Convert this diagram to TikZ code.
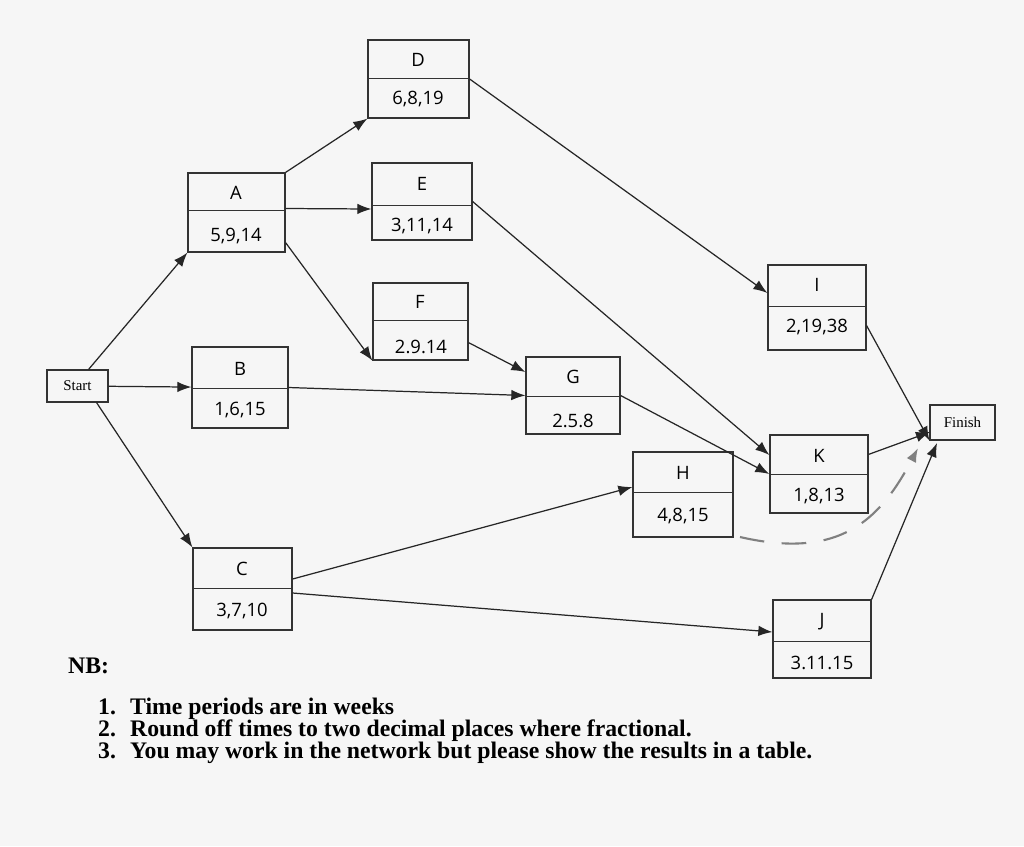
\documentclass[tikz,border=0pt]{standalone}
\usepackage{fontspec}
\setmainfont{Liberation Serif}
\newfontfamily\boxfont{Open Sans}
\usetikzlibrary{arrows.meta}
\tikzset{
 box/.style={draw=black!80,line width=0.7pt},
 lab/.style={font=\boxfont\fontsize{10.5}{12}\selectfont},
 se/.style={draw=black!80,line width=0.6pt,font=\fontsize{8.5}{10}\selectfont,inner sep=0pt},
 arr/.style={-{Latex[length=8pt,width=6pt]},line width=0.7pt,black!85},
 nb/.style={font=\bfseries\fontsize{13.5}{15}\selectfont,anchor=west}
}
\begin{document}
\begin{tikzpicture}[x=0.02cm,y=-0.02cm]
\fill[white!93!gray] (0,0) rectangle (1024,846);
\useasboundingbox (0,0) rectangle (1024,846);
% boxes
\node[box,minimum width=101*0.02cm,minimum height=78*0.02cm] (D) at (418.5,79) {};
\draw[black!80] (368,78) -- (469,78);
\node[lab] at (418,60) {D}; \node[lab] at (418,99) {6,8,19};
\node[box,minimum width=100*0.02cm,minimum height=77*0.02cm] (E) at (422,201.5) {};
\draw[black!80] (372,205) -- (472,205);
\node[lab] at (422,184) {E}; \node[lab] at (422,226) {3,11,14};
\node[box,minimum width=97*0.02cm,minimum height=79*0.02cm] (A) at (236.5,212.5) {};
\draw[black!80] (188,210) -- (285,210);
\node[lab] at (236,193) {A}; \node[lab] at (236,236) {5,9,14};
\node[box,minimum width=95*0.02cm,minimum height=77*0.02cm] (F) at (420.5,321.5) {};
\draw[black!80] (373,320) -- (468,320);
\node[lab] at (420,302) {F}; \node[lab] at (421,347) {2.9.14};
\node[box,minimum width=98*0.02cm,minimum height=85*0.02cm] (I) at (817,307.5) {};
\draw[black!80] (768,306) -- (866,306);
\node[lab] at (817,285) {I}; \node[lab] at (817,327) {2,19,38};
\node[box,minimum width=96*0.02cm,minimum height=81*0.02cm] (B) at (240,387.5) {};
\draw[black!80] (192,388) -- (288,388);
\node[lab] at (240,369) {B}; \node[lab] at (240,410) {1,6,15};
\node[box,minimum width=94*0.02cm,minimum height=77*0.02cm] (G) at (573,395.5) {};
\draw[black!80] (526,396) -- (620,396);
\node[lab] at (573,377) {G}; \node[lab] at (573,421) {2.5.8};
\node[se,minimum width=61*0.02cm,minimum height=32*0.02cm] (Start) at (77.5,386) {Start};
\node[box,minimum width=98*0.02cm,minimum height=78*0.02cm] (K) at (819,474) {};
\draw[black!80] (770,474) -- (868,474);
\node[lab] at (819,456) {K}; \node[lab] at (819,496) {1,8,13};
\node[box,minimum width=100*0.02cm,minimum height=85*0.02cm] (H) at (683,494.5) {};
\draw[black!80] (633,492) -- (733,492);
\node[lab] at (683,473) {H}; \node[lab] at (683,516) {4,8,15};
\node[se,minimum width=65*0.02cm,minimum height=35*0.02cm] (Finish) at (962.5,422.5) {Finish};
\node[box,minimum width=99*0.02cm,minimum height=82*0.02cm] (C) at (242.5,589) {};
\draw[black!80] (193,588) -- (292,588);
\node[lab] at (242,569) {C}; \node[lab] at (242,611) {3,7,10};
\node[box,minimum width=98*0.02cm,minimum height=78*0.02cm] (J) at (822,639) {};
\draw[black!80] (773,641) -- (871,641);
\node[lab] at (822,622) {J}; \node[lab] at (822,663) {3.11.15};
\coordinate (fJ) at (937,443);
\coordinate (fK) at (930,432);
% edges
\draw[arr] (Start.north east) ++(-20,0) -- (A.south west);
\draw[arr] (Start) -- (B);
\draw[arr] (Start.south east) ++(-12,0) -- (C.north west);
\draw[arr] (A.north east) -- (D.south west);
\draw[arr] (A.east) ++(0,-4) -- (E.west |- 208,209);
\draw[arr] (A.south east) ++(0,-10) -- (F.south west);
\draw[arr] (D.east) -- (I.north west |- 768,293);
\draw[arr] (E.east) -- (K.north west |- 770,455);
\draw[arr] (F.south east) ++(0,-18) -- (G.north west |- 526,372);
\draw[arr] (B.east) -- (G.west);
\draw[arr] (G.east) -- (K.west);
\draw[arr] (C.east) ++(0,-10) -- (H.west |- 633,487);
\draw[arr] (C.east) ++(0,4) -- (J.west |- 773,632);
\draw[arr] (I.south east) ++(0,-25) -- (Finish.south west);
\draw[arr] (K.north east) ++(0,20) -- (fK);
\draw[arr] (J.north east) -- (fJ);
\draw[gray,line width=1.2pt,dash pattern=on 14pt off 10pt,-{Latex[length=8pt]}] (740,537) .. controls (840,560) and (880,520) .. (918,448);
% notes
\node[nb] at (62,666) {NB:};
\node[nb] at (92,709) {1.\hspace{0.6em}Time periods are in weeks};
\node[nb] at (92,731) {2.\hspace{0.6em}Round off times to two decimal places where fractional.};
\node[nb] at (92,753) {3.\hspace{0.6em}You may work in the network but please show the results in a table.};
\end{tikzpicture}
\end{document}
